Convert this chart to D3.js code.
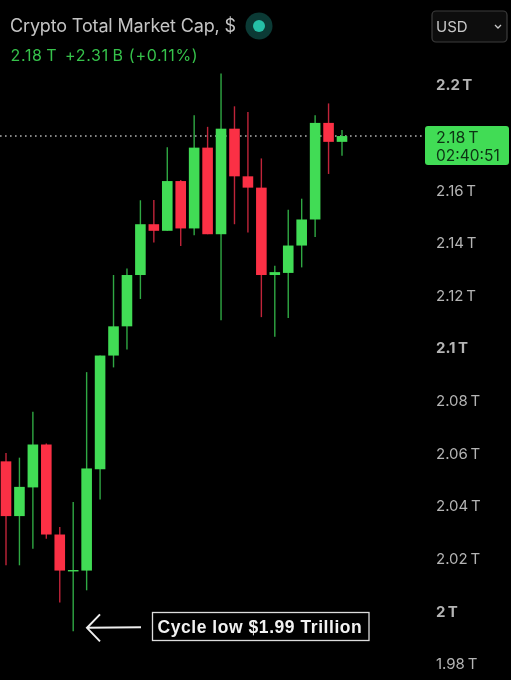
<!DOCTYPE html>
<html><head><meta charset="utf-8">
<script src="https://cdn.jsdelivr.net/npm/d3@7/dist/d3.min.js"></script>
<style>html,body{margin:0;padding:0;background:#000;overflow:hidden}svg{display:block;filter:blur(0.4px)}text{font-family:Inter,"Liberation Sans",sans-serif}</style>
</head><body><svg id="c" width="511" height="680"></svg>
<script>
// Values in billions USD
const opens  = [2057.0,2036.2,2047.1,2063.4,2029.2,2015.4,2015.5,2054.0,2097.2,2108.3,2127.8,2147.1,2144.6,2163.5,2145.5,2176.2,2143.3,2183.4,2165.3,2161.0,2127.8,2128.6,2139.0,2148.9,2185.6,2178.4];
const closes = [2036.2,2047.3,2063.4,2029.2,2015.5,2015.7,2054.3,2097.2,2108.3,2127.8,2147.1,2144.6,2163.5,2145.5,2176.2,2143.3,2183.4,2165.3,2161.0,2127.8,2128.9,2139.0,2148.9,2185.6,2178.4,2180.6];
const highs  = [2060.2,2058.4,2075.8,2063.8,2032.1,2041.6,2090.9,2097.2,2127.8,2130.3,2156.2,2156.3,2176.3,2163.9,2188.5,2184.1,2204.4,2191.9,2189.7,2172.1,2131.3,2152.6,2156.8,2188.5,2193.0,2182.9];
const lows   = [2017.5,2017.5,2023.8,2027.6,2003.4,1992.4,2008.0,2042.5,2092.7,2099.5,2118.7,2140.2,2144.6,2138.8,2142.9,2143.3,2110.6,2147.1,2144.0,2111.8,2104.3,2111.5,2130.7,2142.2,2166.2,2173.1];
const tickValues = [2200,2180,2160,2140,2120,2100,2080,2060,2040,2020,2000,1980];
const tickLabels = ["2.2\u2009T","","2.16\u2009T","2.14\u2009T","2.12\u2009T","2.1\u2009T","2.08\u2009T","2.06\u2009T","2.04\u2009T","2.02\u2009T","2\u2009T","1.98\u2009T"];
const boldTicks = [2200,2100,2000];
const lastPrice = 2180.6;
const title = "Crypto Total Market Cap, $";
const quoteParts = ["2.18\u2009T","+2.31\u2009B (+0.11%)"];
const note = "Cycle low $1.99 Trillion";
const low = 1992.4;

const UP="#41dc55", DOWN="#fb3045", UPW="#2fa843", DOWNW="#c0243a";
const svg=d3.select("#c");
const x=d3.scaleLinear().domain([0,25]).range([6,342]);
const y=d3.scaleLinear().domain([2200,1980]).range([85,664]);
const bw=10.6;

// y axis
const axis=d3.axisRight(y).tickValues(tickValues).tickSize(0).tickPadding(0)
  .tickFormat((d,i)=>tickLabels[i]);
const ga=svg.append("g").attr("transform","translate(436,0)").call(axis);
ga.select(".domain").remove();
ga.selectAll("text").attr("fill","#b4b4b4").attr("font-size",15)
  .style("font-family",'Inter,"Liberation Sans",sans-serif')
  .attr("font-weight",d=>boldTicks.includes(d)?700:400);

// last price line
svg.append("line").attr("x1",0).attr("x2",423).attr("y1",y(lastPrice)).attr("y2",y(lastPrice))
  .attr("stroke","#b0b0b0").attr("stroke-width",1.4).attr("stroke-dasharray","1.6 3.4");

// candles
const idx=d3.range(opens.length);
const g=svg.append("g");
g.selectAll("line").data(idx).join("line")
  .attr("x1",i=>x(i)).attr("x2",i=>x(i))
  .attr("y1",i=>y(highs[i])).attr("y2",i=>y(lows[i]))
  .attr("stroke",i=>closes[i]>=opens[i]?UPW:DOWNW).attr("stroke-width",1.4);
g.selectAll("rect").data(idx).join("rect")
  .attr("x",i=>x(i)-bw/2).attr("width",bw)
  .attr("y",i=>y(Math.max(opens[i],closes[i])))
  .attr("height",i=>Math.max(1.4,Math.abs(y(opens[i])-y(closes[i]))))
  .attr("fill",i=>closes[i]>=opens[i]?UP:DOWN);

// price tag
svg.append("rect").attr("x",425).attr("y",126).attr("width",84).attr("height",39).attr("rx",3).attr("fill","#41dc55");
svg.append("text").attr("x",436).attr("y",142.5).attr("font-size",16).attr("fill","#0d3314").text("2.18\u2009T");
svg.append("text").attr("x",436).attr("y",160.5).attr("font-size",15.5).attr("fill","#0d3314").text("02:40:51");

// header
svg.append("text").attr("x",10).attr("y",32).attr("font-size",18).attr("letter-spacing",-0.15).attr("fill","#c4c4c4").text(title);
svg.append("circle").attr("cx",259).attr("cy",26).attr("r",13.5).attr("fill","#0b3a35");
svg.append("circle").attr("cx",259).attr("cy",26).attr("r",6).attr("fill","#25bfa6");
svg.append("text").attr("x",10.5).attr("y",60.5).attr("font-size",16).attr("letter-spacing",0.7).attr("fill","#36c24b").text(quoteParts[0]);
svg.append("text").attr("x",65).attr("y",60.5).attr("font-size",16).attr("letter-spacing",0.7).attr("fill","#36c24b").text(quoteParts[1]);

// select
svg.append("rect").attr("x",432).attr("y",11).attr("width",75).attr("height",31).attr("rx",4)
  .attr("fill","#0d0d0d").attr("stroke","#3c3c3c").attr("stroke-width",1.2);
svg.append("text").attr("x",436).attr("y",32).attr("font-size",15).attr("fill","#c8c8c8").text("USD");
svg.append("path").attr("d","M495 25l3 3 3-3").attr("fill","none").attr("stroke","#c8c8c8").attr("stroke-width",1.3);

// annotation
const lowY=y(low)-4;
svg.append("path").attr("d",`M141 ${lowY}L87 ${lowY+0.5}M100 ${lowY-13}L87 ${lowY+0.5}L100 ${lowY+14}`)
  .attr("fill","none").attr("stroke","#eee").attr("stroke-width",2);
svg.append("rect").attr("x",152.5).attr("y",612.5).attr("width",216.5).attr("height",28)
  .attr("fill","#000").attr("stroke","#ddd").attr("stroke-width",1.3);
svg.append("text").attr("x",157.5).attr("y",633).attr("font-size",17.5).attr("font-weight",700)
  .attr("letter-spacing",0.55).attr("fill","#f2f2f2").style("font-family",'"Liberation Sans",sans-serif').text(note);
</script></body></html>
